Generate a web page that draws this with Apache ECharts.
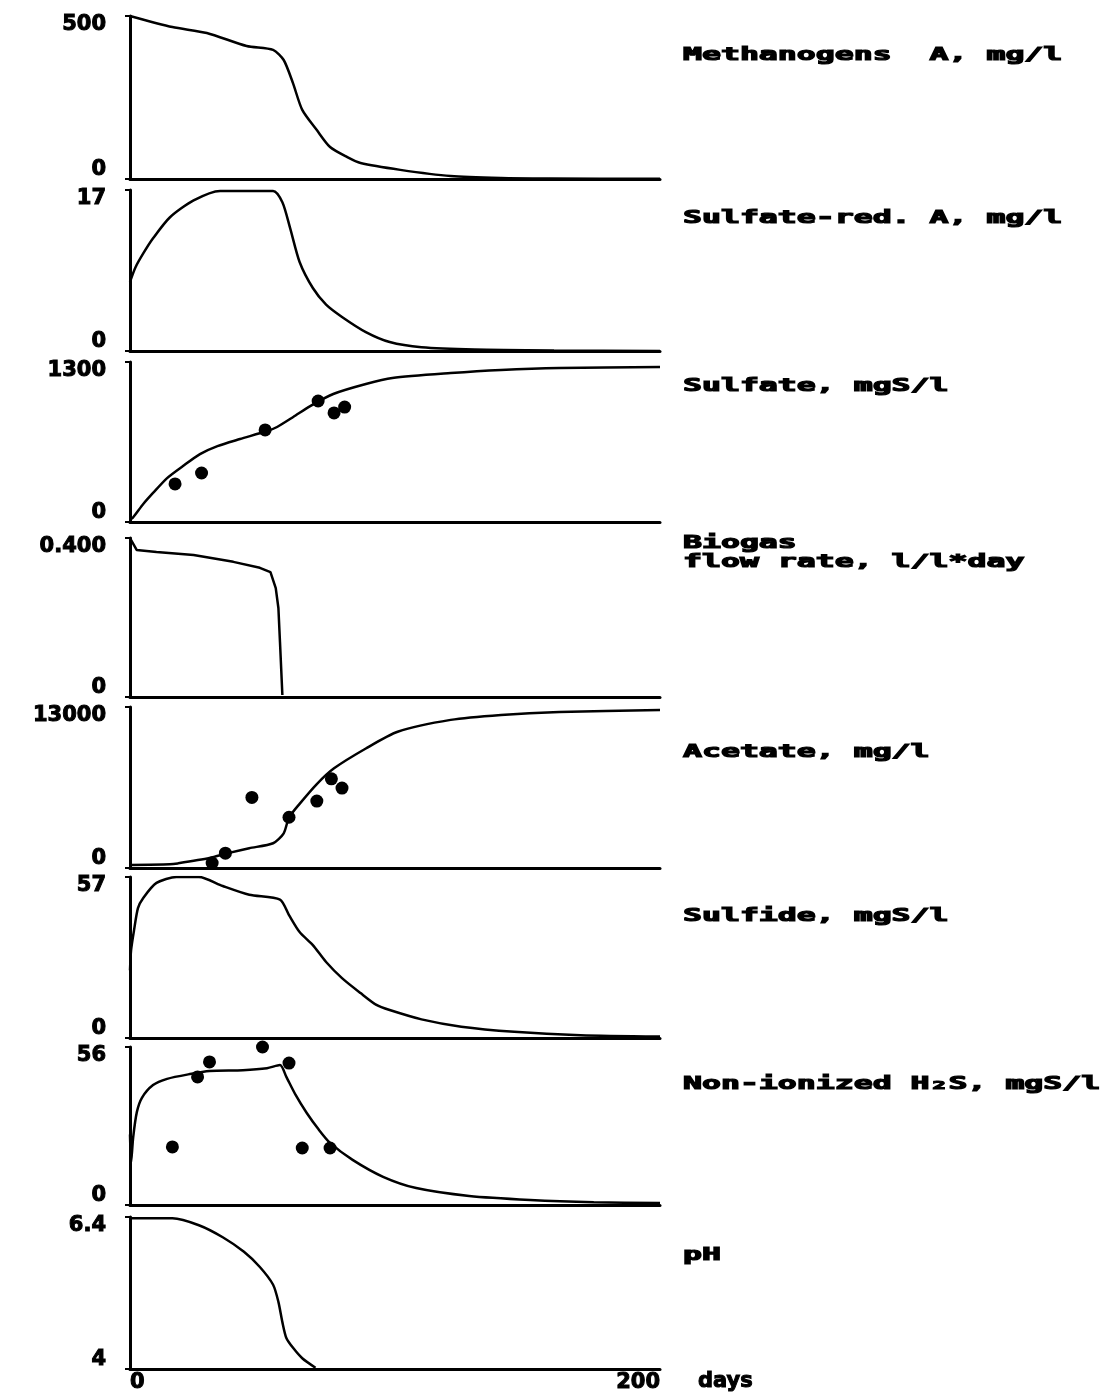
<!DOCTYPE html>
<html lang="en">
<head>
    <meta charset="UTF-8">
    <title>Reactor simulation panels</title>
    <script src="https://cdn.jsdelivr.net/npm/echarts/dist/echarts.min.js"></script>
    <style>
        html, body { margin: 0; padding: 0; background: #fff; }
        #chart { width: 1105px; height: 1398px; }
    </style>
</head>
<body>
<div id="chart"></div>
<script>
    // ---- data: [day, value] ----
    var methanogens = [[0, 500], [16, 466], [29, 448], [44, 408], [54, 396], [58, 365], [61.5, 294], [65, 212],
        [70.5, 150], [75.5, 98], [82, 67], [87, 49], [102, 28], [121, 9], [140, 3], [158, 1.5], [200, 0.5]];
    var sulfateReducers = [[0, 7.3], [2, 8.8], [5, 10.3], [8.7, 11.9], [15, 14.1], [24, 15.9], [34, 16.9], [54, 16.9],
        [57.5, 15.7], [60.4, 13], [64, 9.4], [69, 6.65], [74, 4.9], [80, 3.6], [89, 2.0], [98, 0.95], [110, 0.4],
        [130, 0.15], [160, 0.05], [200, 0]];
    var sulfate = [[0, 20], [1, 33], [5, 146], [8.7, 236], [14, 357], [20, 455], [26.4, 552], [33, 617], [41.5, 674],
        [51.7, 739], [55.5, 772], [61.6, 853], [68, 942], [76.7, 1040], [89, 1121], [99, 1170], [121, 1210],
        [140, 1235], [162, 1251], [200, 1259]];
    var sulfateObs = [[17, 309], [27, 398], [51, 748], [71, 983], [77, 886], [81, 934]];
    var biogas = [[0, 0.4], [2.5, 0.37], [10, 0.365], [24, 0.357], [39, 0.34], [49, 0.325], [53, 0.314],
        [55, 0.274], [56, 0.224], [56.6, 0.138], [57.5, 0.005]];
    var acetate = [[0, 250], [15, 300], [18, 370], [30, 800], [37, 1200], [45, 1600], [54, 2000], [58, 2800],
        [60, 4070], [64, 5180], [70.5, 6780], [77, 8050], [89, 9650], [101, 11000], [121, 11960], [140, 12360],
        [162, 12600], [200, 12760]];
    var acetateObs = [[31, 400], [36, 1200], [46, 5700], [60, 4100], [70.5, 5400], [76, 7200], [80, 6450]];
    var sulfide = [[0, 24], [0.4, 31], [1.5, 38], [3, 46], [5, 49.6], [10, 54.9], [17.5, 57], [26, 57], [35, 53.8],
        [45, 50.7], [56.6, 49], [60, 43.5], [64, 37.5], [69, 32.9], [74, 26.9], [80, 21.2], [87, 15.9], [93, 11.7],
        [98, 9.9], [110, 6.6], [125, 4.0], [145, 2.2], [170, 1.0], [200, 0.5]];
    var h2s = [[0, 25], [0.4, 15], [1.2, 24], [2.6, 33], [4.5, 38], [8.7, 42.5], [14, 44.7], [22.6, 46.4], [30, 47.5],
        [42.6, 47.8], [51.7, 48.5], [56.6, 49.6], [59, 45.4], [62.5, 39], [66.7, 32.6], [71, 27], [75.5, 22],
        [84, 16], [95.5, 10], [108, 6], [128, 3.2], [151, 1.8], [175, 1], [200, 0.7]];
    var h2sObs = [[16, 20.6], [25.5, 45.4], [30, 50.7], [50, 56], [60, 50.3], [65, 20.2], [75.5, 20.2]];
    var ph = [[0, 6.38], [16, 6.38], [26, 6.27], [35, 6.08], [43, 5.85], [49, 5.61], [54, 5.33], [56, 5.06],
        [57.5, 4.74], [59, 4.49], [61.6, 4.33], [65, 4.17], [70, 4.02]];

    var yMin = [0, 0, 0, 0, 0, 0, 0, 4];
    var yMax = [500, 17, 1300, 0.4, 13000, 57, 56, 6.4];
    var yMinLabels = ['0', '0', '0', '0', '0', '0', '0', '4'];
    var yMaxLabels = ['500', '17', '1300', '0.400', '13000', '57', '56', '6.4'];
    var panelNames = [['Methanogens  A, mg/l'], ['Sulfate-red. A, mg/l'], ['Sulfate, mgS/l'],
        ['Biogas', 'flow rate, l/l*day'], ['Acetate, mg/l'], ['Sulfide, mgS/l'], ['Non-ionized H\u2082S, mgS/l'], ['pH']];
    var curves = [methanogens, sulfateReducers, sulfate, biogas, acetate, sulfide, h2s, ph];
    var observed = [null, null, sulfateObs, null, acetateObs, null, h2sObs, null];
    var xTicks = ['0', '200'];

    // ---- layout ----
    var gridTop = [16, 190, 362, 538, 707, 877, 1047, 1217];
    var gridBottom = [179, 351, 522, 697, 868, 1038, 1205, 1369];
    var nameY = [55, 218, 386, 543, 752, 916, 1084, 1255];
    var tickFont = 'DejaVu Sans';
    var heavy = { color: '#000', fontFamily: tickFont, fontWeight: 'bold', fontSize: 21,
        textBorderColor: '#000', textBorderWidth: 1 };

    var chart = echarts.init(document.getElementById('chart'));

    var grids = [], xAxes = [], yAxes = [], series = [], texts = [];
    curves.forEach(function (curve, i) {
        var last = i === curves.length - 1;
        grids.push({ left: 130, width: 530, top: gridTop[i], height: gridBottom[i] - gridTop[i] });
        xAxes.push({
            type: 'value', gridIndex: i, min: 0, max: 200, interval: 200,
            axisLine: { onZero: false, lineStyle: { color: '#000', width: 3 } },
            axisTick: { show: false },
            splitLine: { show: false },
            axisLabel: Object.assign({
                show: last, margin: 3,
                alignMinLabel: 'left', alignMaxLabel: 'right',
                formatter: function (v) { return v === 0 ? xTicks[0] : xTicks[1]; }
            }, heavy),
            name: last ? 'days' : '',
            nameLocation: 'end', nameGap: 38,
            nameTextStyle: Object.assign({ verticalAlign: 'top', padding: [2, 0, 0, 0] }, heavy)
        });
        var lo = yMin[i], hi = yMax[i];
        yAxes.push({
            type: 'value', gridIndex: i, min: lo, max: hi, interval: hi - lo,
            axisLine: { onZero: false, lineStyle: { color: '#000', width: 3 } },
            axisTick: { show: true, length: 5, lineStyle: { color: '#000', width: 2 } },
            splitLine: { show: false },
            axisLabel: Object.assign({
                margin: 24,
                formatter: function (v) {
                    return v > (lo + hi) / 2 ? '{t|' + yMaxLabels[i] + '}' : '{b|' + yMinLabels[i] + '}';
                },
                rich: {
                    t: Object.assign({ padding: [18, 0, 0, 0] }, heavy),
                    b: Object.assign({ padding: [0, 0, 18, 0] }, heavy)
                }
            }, heavy)
        });
        series.push({
            type: 'line', xAxisIndex: i, yAxisIndex: i, data: curve,
            showSymbol: false, smooth: i === 3 ? false : 0.25,
            lineStyle: { color: '#000', width: 2.5 }, silent: true
        });
        if (observed[i]) {
            series.push({
                type: 'scatter', xAxisIndex: i, yAxisIndex: i, data: observed[i],
                symbol: 'circle', symbolSize: 13, itemStyle: { color: '#000', opacity: 1 }, silent: true
            });
        }
        panelNames[i].forEach(function (line, k) {
            texts.push({
                type: 'text', x: 683, y: nameY[i] + k * 19, scaleX: 1.75,
                style: {
                    text: line, fill: '#000', stroke: '#000', lineWidth: 1.2,
                    font: 'bold 18px "DejaVu Sans Mono"', verticalAlign: 'middle'
                }
            });
        });
    });

    chart.setOption({
        animation: false,
        backgroundColor: '#fff',
        grid: grids,
        xAxis: xAxes,
        yAxis: yAxes,
        series: series,
        graphic: texts
    });
</script>
</body>
</html>
